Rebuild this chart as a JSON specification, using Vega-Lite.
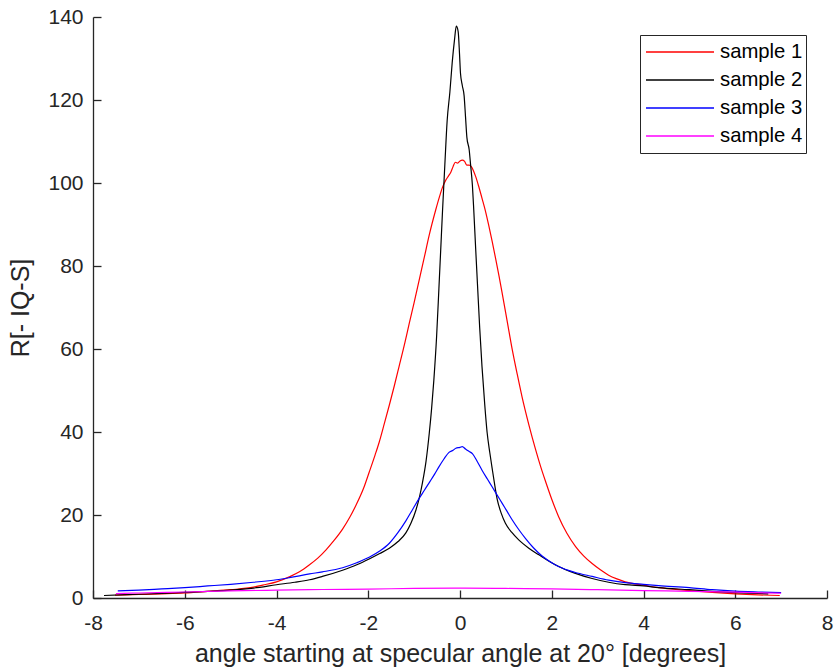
{
  "$schema": "https://vega.github.io/schema/vega-lite/v6.json",
  "width": 734,
  "height": 581,
  "autosize": {"type": "none"},
  "padding": {"left": 93, "top": 17, "right": 7, "bottom": 72},
  "background": "white",
  "config": {"view": {"stroke": null}, "font": "Liberation Sans"},
  "data": {"values": [
    {"series": "sample 1", "angle": -7.52, "R": 0.7},
    {"series": "sample 1", "angle": -7.0, "R": 0.85},
    {"series": "sample 1", "angle": -6.5, "R": 1.0},
    {"series": "sample 1", "angle": -6.0, "R": 1.2},
    {"series": "sample 1", "angle": -5.5, "R": 1.6},
    {"series": "sample 1", "angle": -5.0, "R": 2.0},
    {"series": "sample 1", "angle": -4.5, "R": 2.6},
    {"series": "sample 1", "angle": -4.3, "R": 3.1},
    {"series": "sample 1", "angle": -4.0, "R": 3.9},
    {"series": "sample 1", "angle": -3.72, "R": 5.1},
    {"series": "sample 1", "angle": -3.5, "R": 6.3},
    {"series": "sample 1", "angle": -3.28, "R": 8.0},
    {"series": "sample 1", "angle": -3.1, "R": 9.6},
    {"series": "sample 1", "angle": -2.92, "R": 11.6},
    {"series": "sample 1", "angle": -2.75, "R": 13.8},
    {"series": "sample 1", "angle": -2.56, "R": 16.6},
    {"series": "sample 1", "angle": -2.4, "R": 19.5},
    {"series": "sample 1", "angle": -2.27, "R": 22.3},
    {"series": "sample 1", "angle": -2.1, "R": 26.5},
    {"series": "sample 1", "angle": -1.98, "R": 30.3},
    {"series": "sample 1", "angle": -1.85, "R": 34.5},
    {"series": "sample 1", "angle": -1.76, "R": 37.6},
    {"series": "sample 1", "angle": -1.65, "R": 42.0},
    {"series": "sample 1", "angle": -1.54, "R": 46.5},
    {"series": "sample 1", "angle": -1.43, "R": 51.2},
    {"series": "sample 1", "angle": -1.33, "R": 55.7},
    {"series": "sample 1", "angle": -1.2, "R": 61.6},
    {"series": "sample 1", "angle": -1.11, "R": 66.0},
    {"series": "sample 1", "angle": -1.0, "R": 71.2},
    {"series": "sample 1", "angle": -0.89, "R": 76.6},
    {"series": "sample 1", "angle": -0.78, "R": 82.0},
    {"series": "sample 1", "angle": -0.67, "R": 87.5},
    {"series": "sample 1", "angle": -0.53, "R": 93.5},
    {"series": "sample 1", "angle": -0.45, "R": 96.6},
    {"series": "sample 1", "angle": -0.38, "R": 99.0},
    {"series": "sample 1", "angle": -0.31, "R": 100.7},
    {"series": "sample 1", "angle": -0.25, "R": 101.7},
    {"series": "sample 1", "angle": -0.2, "R": 102.6},
    {"series": "sample 1", "angle": -0.15, "R": 104.0},
    {"series": "sample 1", "angle": -0.1, "R": 105.0},
    {"series": "sample 1", "angle": -0.05, "R": 104.8},
    {"series": "sample 1", "angle": 0.0, "R": 105.3},
    {"series": "sample 1", "angle": 0.05, "R": 105.5},
    {"series": "sample 1", "angle": 0.1, "R": 105.2},
    {"series": "sample 1", "angle": 0.15, "R": 104.3},
    {"series": "sample 1", "angle": 0.2, "R": 104.3},
    {"series": "sample 1", "angle": 0.25, "R": 103.9},
    {"series": "sample 1", "angle": 0.34, "R": 101.6},
    {"series": "sample 1", "angle": 0.41, "R": 99.1},
    {"series": "sample 1", "angle": 0.5, "R": 95.5},
    {"series": "sample 1", "angle": 0.56, "R": 93.0},
    {"series": "sample 1", "angle": 0.63, "R": 89.6},
    {"series": "sample 1", "angle": 0.7, "R": 86.0},
    {"series": "sample 1", "angle": 0.78, "R": 81.6},
    {"series": "sample 1", "angle": 0.85, "R": 77.6},
    {"series": "sample 1", "angle": 0.92, "R": 73.4},
    {"series": "sample 1", "angle": 1.03, "R": 66.6},
    {"series": "sample 1", "angle": 1.14, "R": 59.8},
    {"series": "sample 1", "angle": 1.25, "R": 53.8},
    {"series": "sample 1", "angle": 1.35, "R": 48.6},
    {"series": "sample 1", "angle": 1.5, "R": 41.8},
    {"series": "sample 1", "angle": 1.65, "R": 35.7},
    {"series": "sample 1", "angle": 1.76, "R": 31.6},
    {"series": "sample 1", "angle": 1.88, "R": 27.6},
    {"series": "sample 1", "angle": 2.0, "R": 23.8},
    {"series": "sample 1", "angle": 2.15, "R": 19.6},
    {"series": "sample 1", "angle": 2.33, "R": 15.6},
    {"series": "sample 1", "angle": 2.52, "R": 12.4},
    {"series": "sample 1", "angle": 2.7, "R": 10.1},
    {"series": "sample 1", "angle": 2.88, "R": 8.3},
    {"series": "sample 1", "angle": 3.06, "R": 6.8},
    {"series": "sample 1", "angle": 3.24, "R": 5.5},
    {"series": "sample 1", "angle": 3.42, "R": 4.6},
    {"series": "sample 1", "angle": 3.6, "R": 3.9},
    {"series": "sample 1", "angle": 4.0, "R": 3.1},
    {"series": "sample 1", "angle": 4.33, "R": 2.5},
    {"series": "sample 1", "angle": 4.7, "R": 2.1},
    {"series": "sample 1", "angle": 5.0, "R": 1.8},
    {"series": "sample 1", "angle": 5.5, "R": 1.35},
    {"series": "sample 1", "angle": 6.0, "R": 1.0},
    {"series": "sample 1", "angle": 6.5, "R": 0.75},
    {"series": "sample 1", "angle": 6.97, "R": 0.6},

    {"series": "sample 2", "angle": -7.76, "R": 0.6},
    {"series": "sample 2", "angle": -7.0, "R": 0.9},
    {"series": "sample 2", "angle": -6.5, "R": 1.1},
    {"series": "sample 2", "angle": -6.0, "R": 1.35},
    {"series": "sample 2", "angle": -5.5, "R": 1.6},
    {"series": "sample 2", "angle": -5.0, "R": 1.9},
    {"series": "sample 2", "angle": -4.5, "R": 2.4},
    {"series": "sample 2", "angle": -4.0, "R": 3.2},
    {"series": "sample 2", "angle": -3.6, "R": 3.8},
    {"series": "sample 2", "angle": -3.28, "R": 4.4},
    {"series": "sample 2", "angle": -3.0, "R": 5.2},
    {"series": "sample 2", "angle": -2.56, "R": 6.7},
    {"series": "sample 2", "angle": -2.25, "R": 8.0},
    {"series": "sample 2", "angle": -1.98, "R": 9.4},
    {"series": "sample 2", "angle": -1.75, "R": 10.7},
    {"series": "sample 2", "angle": -1.54, "R": 12.0},
    {"series": "sample 2", "angle": -1.35, "R": 13.6},
    {"series": "sample 2", "angle": -1.18, "R": 15.7},
    {"series": "sample 2", "angle": -1.07, "R": 18.0},
    {"series": "sample 2", "angle": -0.96, "R": 21.2},
    {"series": "sample 2", "angle": -0.88, "R": 24.5},
    {"series": "sample 2", "angle": -0.82, "R": 27.7},
    {"series": "sample 2", "angle": -0.74, "R": 33.0},
    {"series": "sample 2", "angle": -0.67, "R": 39.7},
    {"series": "sample 2", "angle": -0.62, "R": 45.5},
    {"series": "sample 2", "angle": -0.57, "R": 52.5},
    {"series": "sample 2", "angle": -0.51, "R": 63.0},
    {"series": "sample 2", "angle": -0.46, "R": 74.5},
    {"series": "sample 2", "angle": -0.42, "R": 84.0},
    {"series": "sample 2", "angle": -0.38, "R": 93.5},
    {"series": "sample 2", "angle": -0.33, "R": 104.5},
    {"series": "sample 2", "angle": -0.28, "R": 115.0},
    {"series": "sample 2", "angle": -0.22, "R": 122.0},
    {"series": "sample 2", "angle": -0.17, "R": 129.0},
    {"series": "sample 2", "angle": -0.12, "R": 134.5},
    {"series": "sample 2", "angle": -0.08, "R": 137.8},
    {"series": "sample 2", "angle": -0.04, "R": 136.5},
    {"series": "sample 2", "angle": -0.01, "R": 131.0},
    {"series": "sample 2", "angle": 0.01, "R": 126.5},
    {"series": "sample 2", "angle": 0.05, "R": 123.5},
    {"series": "sample 2", "angle": 0.09, "R": 121.0},
    {"series": "sample 2", "angle": 0.12, "R": 116.0},
    {"series": "sample 2", "angle": 0.15, "R": 111.0},
    {"series": "sample 2", "angle": 0.2, "R": 108.0},
    {"series": "sample 2", "angle": 0.23, "R": 104.5},
    {"series": "sample 2", "angle": 0.27, "R": 99.5},
    {"series": "sample 2", "angle": 0.3, "R": 93.5},
    {"series": "sample 2", "angle": 0.34, "R": 84.5},
    {"series": "sample 2", "angle": 0.38, "R": 75.8},
    {"series": "sample 2", "angle": 0.43, "R": 65.0},
    {"series": "sample 2", "angle": 0.48, "R": 55.7},
    {"series": "sample 2", "angle": 0.54, "R": 46.5},
    {"series": "sample 2", "angle": 0.59, "R": 40.0},
    {"series": "sample 2", "angle": 0.65, "R": 35.0},
    {"series": "sample 2", "angle": 0.7, "R": 31.3},
    {"series": "sample 2", "angle": 0.76, "R": 27.0},
    {"series": "sample 2", "angle": 0.81, "R": 23.8},
    {"series": "sample 2", "angle": 0.9, "R": 20.4},
    {"series": "sample 2", "angle": 0.99, "R": 18.0},
    {"series": "sample 2", "angle": 1.13, "R": 15.8},
    {"series": "sample 2", "angle": 1.28, "R": 14.0},
    {"series": "sample 2", "angle": 1.5, "R": 12.0},
    {"series": "sample 2", "angle": 1.72, "R": 10.4},
    {"series": "sample 2", "angle": 1.95, "R": 8.8},
    {"series": "sample 2", "angle": 2.15, "R": 7.6},
    {"series": "sample 2", "angle": 2.5, "R": 6.0},
    {"series": "sample 2", "angle": 2.88, "R": 4.7},
    {"series": "sample 2", "angle": 3.24, "R": 3.8},
    {"series": "sample 2", "angle": 3.6, "R": 3.2},
    {"series": "sample 2", "angle": 4.0, "R": 2.9},
    {"series": "sample 2", "angle": 4.33, "R": 2.5},
    {"series": "sample 2", "angle": 5.0, "R": 2.0},
    {"series": "sample 2", "angle": 5.5, "R": 1.6},
    {"series": "sample 2", "angle": 6.0, "R": 1.3},
    {"series": "sample 2", "angle": 6.5, "R": 1.1},
    {"series": "sample 2", "angle": 6.72, "R": 1.0},

    {"series": "sample 3", "angle": -7.46, "R": 1.7},
    {"series": "sample 3", "angle": -7.0, "R": 1.9},
    {"series": "sample 3", "angle": -6.5, "R": 2.2},
    {"series": "sample 3", "angle": -6.0, "R": 2.5},
    {"series": "sample 3", "angle": -5.5, "R": 2.9},
    {"series": "sample 3", "angle": -5.0, "R": 3.3},
    {"series": "sample 3", "angle": -4.5, "R": 3.8},
    {"series": "sample 3", "angle": -4.0, "R": 4.4},
    {"series": "sample 3", "angle": -3.72, "R": 4.9},
    {"series": "sample 3", "angle": -3.28, "R": 5.8},
    {"series": "sample 3", "angle": -3.0, "R": 6.3},
    {"series": "sample 3", "angle": -2.56, "R": 7.3},
    {"series": "sample 3", "angle": -2.25, "R": 8.5},
    {"series": "sample 3", "angle": -1.98, "R": 9.8},
    {"series": "sample 3", "angle": -1.75, "R": 11.3},
    {"series": "sample 3", "angle": -1.54, "R": 13.2},
    {"series": "sample 3", "angle": -1.35, "R": 15.8},
    {"series": "sample 3", "angle": -1.18, "R": 18.6},
    {"series": "sample 3", "angle": -1.03, "R": 21.4},
    {"series": "sample 3", "angle": -0.89, "R": 24.0},
    {"series": "sample 3", "angle": -0.78, "R": 25.9},
    {"series": "sample 3", "angle": -0.67, "R": 27.8},
    {"series": "sample 3", "angle": -0.55, "R": 29.9},
    {"series": "sample 3", "angle": -0.46, "R": 31.6},
    {"series": "sample 3", "angle": -0.35, "R": 33.5},
    {"series": "sample 3", "angle": -0.24, "R": 35.1},
    {"series": "sample 3", "angle": -0.15, "R": 35.6},
    {"series": "sample 3", "angle": -0.09, "R": 36.1},
    {"series": "sample 3", "angle": 0.0, "R": 36.3},
    {"series": "sample 3", "angle": 0.05, "R": 36.5},
    {"series": "sample 3", "angle": 0.12, "R": 35.9},
    {"series": "sample 3", "angle": 0.2, "R": 35.3},
    {"series": "sample 3", "angle": 0.27, "R": 34.8},
    {"series": "sample 3", "angle": 0.37, "R": 33.0},
    {"series": "sample 3", "angle": 0.48, "R": 30.8},
    {"series": "sample 3", "angle": 0.6, "R": 28.6},
    {"series": "sample 3", "angle": 0.7, "R": 26.8},
    {"series": "sample 3", "angle": 0.81, "R": 24.8},
    {"series": "sample 3", "angle": 0.92, "R": 22.8},
    {"series": "sample 3", "angle": 1.03, "R": 20.8},
    {"series": "sample 3", "angle": 1.14, "R": 18.8},
    {"series": "sample 3", "angle": 1.28, "R": 16.5},
    {"series": "sample 3", "angle": 1.43, "R": 14.3},
    {"series": "sample 3", "angle": 1.6, "R": 12.1},
    {"series": "sample 3", "angle": 1.79, "R": 10.1},
    {"series": "sample 3", "angle": 2.0, "R": 8.5},
    {"series": "sample 3", "angle": 2.15, "R": 7.6},
    {"series": "sample 3", "angle": 2.5, "R": 6.2},
    {"series": "sample 3", "angle": 2.88, "R": 5.2},
    {"series": "sample 3", "angle": 3.24, "R": 4.3},
    {"series": "sample 3", "angle": 3.6, "R": 3.7},
    {"series": "sample 3", "angle": 4.0, "R": 3.3},
    {"series": "sample 3", "angle": 4.33, "R": 3.0},
    {"series": "sample 3", "angle": 5.0, "R": 2.5},
    {"series": "sample 3", "angle": 5.5, "R": 2.0},
    {"series": "sample 3", "angle": 6.0, "R": 1.65},
    {"series": "sample 3", "angle": 6.5, "R": 1.45},
    {"series": "sample 3", "angle": 7.0, "R": 1.3},

    {"series": "sample 4", "angle": -7.5, "R": 1.05},
    {"series": "sample 4", "angle": -7.0, "R": 1.2},
    {"series": "sample 4", "angle": -6.0, "R": 1.45},
    {"series": "sample 4", "angle": -5.0, "R": 1.7},
    {"series": "sample 4", "angle": -4.0, "R": 1.9},
    {"series": "sample 4", "angle": -3.0, "R": 2.05},
    {"series": "sample 4", "angle": -2.0, "R": 2.15},
    {"series": "sample 4", "angle": -1.0, "R": 2.3},
    {"series": "sample 4", "angle": 0.0, "R": 2.4},
    {"series": "sample 4", "angle": 1.0, "R": 2.3},
    {"series": "sample 4", "angle": 2.0, "R": 2.2},
    {"series": "sample 4", "angle": 3.0, "R": 2.0},
    {"series": "sample 4", "angle": 4.0, "R": 1.8},
    {"series": "sample 4", "angle": 5.0, "R": 1.6},
    {"series": "sample 4", "angle": 6.0, "R": 1.4},
    {"series": "sample 4", "angle": 7.0, "R": 1.15}
  ]},
  "mark": {"type": "line", "strokeWidth": 1.2, "interpolate": "monotone"},
  "encoding": {
    "x": {
      "field": "angle", "type": "quantitative",
      "scale": {"domain": [-8, 8], "nice": false, "zero": false},
      "axis": {
        "title": "angle starting at specular angle at 20° [degrees]",
        "values": [-8, -6, -4, -2, 0, 2, 4, 6, 8],
        "labelExpr": "'' + datum.value",
        "grid": false,
        "tickSize": -8,
        "tickColor": "#262626",
        "tickWidth": 1.3,
        "domainColor": "#262626",
        "domainWidth": 1.3,
        "labelColor": "#262626",
        "labelFontSize": 21,
        "labelPadding": 22,
        "labelFlush": false,
        "titleColor": "#262626",
        "titleFontSize": 25,
        "titleFontWeight": "normal",
        "titlePadding": 8
      }
    },
    "y": {
      "field": "R", "type": "quantitative",
      "scale": {"domain": [0, 140], "nice": false},
      "axis": {
        "title": "R[- IQ-S]",
        "values": [0, 20, 40, 60, 80, 100, 120, 140],
        "labelExpr": "'' + datum.value",
        "grid": false,
        "tickSize": -8,
        "tickColor": "#262626",
        "tickWidth": 1.3,
        "domainColor": "#262626",
        "domainWidth": 1.3,
        "labelColor": "#262626",
        "labelFontSize": 21,
        "labelPadding": 18,
        "labelFlush": false,
        "titleColor": "#262626",
        "titleFontSize": 25,
        "titleFontWeight": "normal",
        "titlePadding": 14
      }
    },
    "color": {
      "field": "series", "type": "nominal",
      "scale": {"domain": ["sample 1", "sample 2", "sample 3", "sample 4"], "range": ["#ff0000", "#000000", "#0000ff", "#ff00ff"]},
      "legend": {
        "title": null,
        "orient": "none",
        "legendX": 547,
        "legendY": 18,
        "symbolType": "stroke",
        "symbolSize": 4624,
        "symbolStrokeWidth": 1.5,
        "clipHeight": 28,
        "rowPadding": 0,
        "padding": 3,
        "symbolOffset": 2,
        "labelOffset": 5,
        "labelFontSize": 20.3,
        "labelColor": "#000000",
        "strokeColor": "#262626",
        "fillColor": "#ffffff"
      }
    }
  }
}
